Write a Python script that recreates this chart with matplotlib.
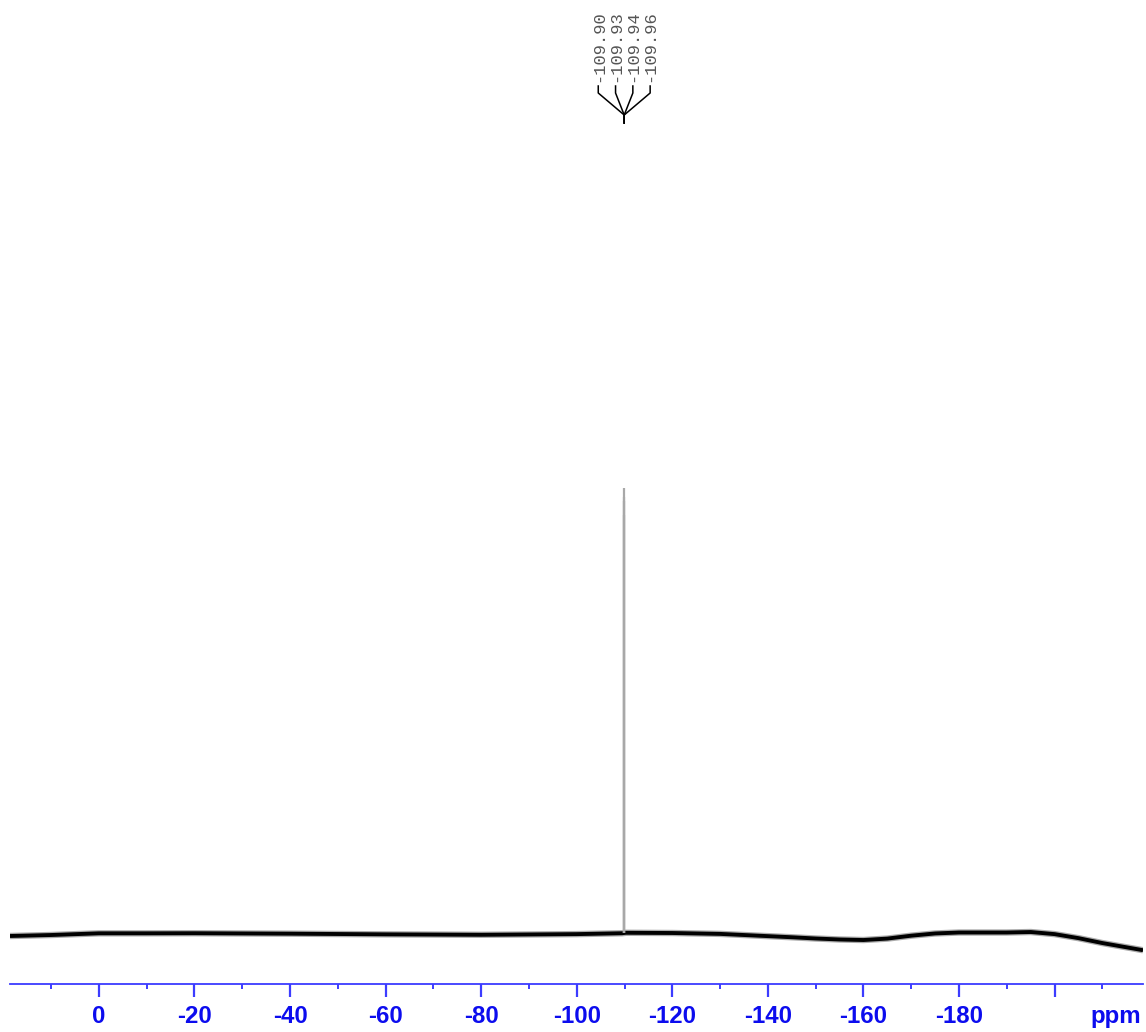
import matplotlib
matplotlib.use("Agg")
import matplotlib.pyplot as plt
import numpy as np

# ---- data ----
baseline_ppm = [18.6, 10, 0, -10, -20, -40, -60, -80, -100, -109.5, -110.3,
                -120, -130, -140, -145, -150, -155, -160, -165, -170, -175, -180, -190,
                -195, -200, -205, -210, -218.5]
baseline_int = [-0.22, 0.0, 0.38, 0.38, 0.4, 0.3, 0.15, 0.05, 0.2, 0.4, 0.5,
                0.45, 0.25, -0.25, -0.5, -0.78, -1.0, -1.12, -0.8, -0.15, 0.35, 0.56, 0.56,
                0.67, 0.2, -0.7, -1.8, -3.4]
peak_ppm = [-109.90, -109.93, -109.94, -109.96]
peak_int = [100, 97, 98, 94]
peak_labels = ["-109.90", "-109.93", "-109.94", "-109.96"]
major_ticks = [0, -20, -40, -60, -80, -100, -120, -140, -160, -180, -200]
major_labels = ["0", "-20", "-40", "-60", "-80", "-100", "-120", "-140", "-160", "-180", ""]
minor_ticks = [10, -10, -30, -50, -70, -90, -110, -130, -150, -170, -190, -210]

W, H = 1146, 1032
fig = plt.figure(figsize=(W / 100, H / 100), dpi=100)
ax = fig.add_axes([10 / W, (H - 984) / H, (1143 - 10) / W, 984 / H])

ax.set_xlim(18.6, -218.5)
ax.set_ylim(-10.96, 209.2)

axis_col = "#3c3cff"
label_col = "#0c0cee"

# baseline (noise halo + core)
ax.plot(baseline_ppm, baseline_int, color="#444444", lw=4.6, alpha=0.45,
        solid_capstyle="butt", solid_joinstyle="round", zorder=2)
ax.plot(baseline_ppm, baseline_int, color="black", lw=2.8,
        solid_capstyle="butt", solid_joinstyle="round", zorder=3)

# peak
base_at_peak = np.interp(-np.array(peak_ppm), -np.array(baseline_ppm), baseline_int)
ax.vlines(peak_ppm, base_at_peak, peak_int, color="#a8a8a8", lw=1.6, zorder=4)

# axes styling
for s in ["top", "left", "right"]:
    ax.spines[s].set_visible(False)
ax.spines["bottom"].set_color(axis_col)
ax.spines["bottom"].set_linewidth(1.3)
ax.set_yticks([])
ax.set_xticks(major_ticks)
ax.set_xticklabels(major_labels)
ax.set_xticks(minor_ticks, minor=True)
ax.tick_params(axis="x", which="major", direction="out", length=9, width=1.6,
               color=axis_col, pad=6, labelcolor=label_col)
ax.tick_params(axis="x", which="minor", direction="out", length=3.5, width=1.4,
               color=axis_col)
for t in ax.get_xticklabels():
    t.set_fontfamily("Liberation Sans")
    t.set_fontweight("bold")
    t.set_fontsize(17.3)

ax.annotate("ppm", xy=(-212.9, 0), xycoords=("data", "axes fraction"),
            xytext=(0, -(9 + 6)), textcoords="offset points",
            ha="center", va="top", color=label_col,
            fontsize=17.3, fontweight="bold", family="Liberation Sans")

# multiplet annotation
fig.canvas.draw()
center_ppm = float(np.mean(peak_ppm))
cx = ax.transData.transform((center_ppm, 0))[0]
spacing = 17.3
n = len(peak_labels)
offs = [(i - (n - 1) / 2) * spacing for i in range(n)]
for lab, dx in zip(peak_labels, offs):
    x = cx + dx
    fig.text(x / W, 1 - 82 / H, lab, rotation=90, ha="center", va="bottom",
             fontsize=12.3, family="Liberation Mono", color="#555555")
    xs = [x, x, cx, cx]
    ys = [86, 93, 115, 123]
    fig.add_artist(plt.Line2D([v / W for v in xs], [1 - v / H for v in ys],
                              transform=fig.transFigure, color="black", lw=1.1))

fig.savefig("out.png", dpi=100)
